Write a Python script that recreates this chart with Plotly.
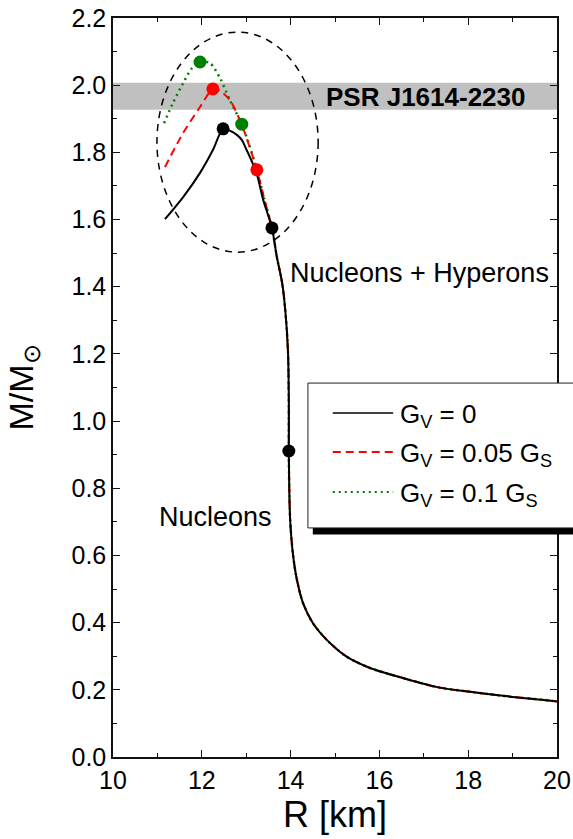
import plotly.graph_objects as go

# ---------------- data ----------------
# shared stable (nucleon) branch, radius [km] and mass [Msun]
r_tail = [13.58, 13.69, 13.81, 13.88, 13.94, 13.96, 13.96, 13.97, 13.99, 14.05, 14.14,
          14.28, 14.50, 14.82, 15.27, 15.79, 16.53, 17.30, 18.04, 18.78, 19.91, 20.0]
m_tail = [1.575, 1.489, 1.411, 1.33, 1.21, 1.063, 0.91, 0.80, 0.706, 0.607, 0.529,
          0.458, 0.399, 0.348, 0.298, 0.265, 0.235, 0.208, 0.194, 0.182, 0.167, 0.165]

# hyperonic branches (G_V = 0, 0.05 G_S, 0.1 G_S)
r_gv0 = [11.17, 11.58, 11.96, 12.25, 12.48, 12.64, 12.79, 12.90, 13.01, 13.12, 13.24, 13.38]
m_gv0 = [1.601, 1.667, 1.739, 1.807, 1.870, 1.864, 1.852, 1.837, 1.807, 1.775, 1.735, 1.660]

r_gv005 = [11.17, 11.58, 11.96, 12.25, 12.41, 12.63, 12.86, 13.00, 13.24, 13.40]
m_gv005 = [1.756, 1.858, 1.935, 1.989, 1.983, 1.956, 1.896, 1.846, 1.748, 1.665]

r_gv01 = [11.15, 11.35, 11.58, 11.78, 11.96, 12.18, 12.41, 12.63, 12.90, 13.05, 13.24, 13.40]
m_gv01 = [1.887, 1.947, 2.006, 2.051, 2.069, 2.066, 2.021, 1.956, 1.884, 1.83, 1.748, 1.665]

# marked points (maximum mass and hyperon onset, etc.)
r_pts_gv0 = [12.48, 13.58, 13.96]
m_pts_gv0 = [1.870, 1.575, 0.911]
r_pts_gv005 = [12.25, 13.24]
m_pts_gv005 = [1.989, 1.748]
r_pts_gv01 = [11.96, 12.90]
m_pts_gv01 = [2.069, 1.884]

series_names = ["G<sub>V</sub> = 0", "G<sub>V</sub> = 0.05 G<sub>S</sub>", "G<sub>V</sub> = 0.1 G<sub>S</sub>"]
psr_band = [1.927, 2.007]
ellipse_box = [10.99, 14.62, 1.503, 2.158]  # x0, x1, y0, y1

x_ticks = [10, 12, 14, 16, 18, 20]
y_ticks = [0.0, 0.2, 0.4, 0.6, 0.8, 1.0, 1.2, 1.4, 1.6, 1.8, 2.0, 2.2]

# ---------------- figure ----------------
FONT = "Liberation Sans, Arial, Helvetica, sans-serif"
colors = ["#000000", "#ff0000", "#008000"]
dashes = ["solid", "8px,5px", "2px,4px"]
widths = [2, 2, 2.5]

fig = go.Figure()

curves = [(r_gv0, m_gv0), (r_gv005, m_gv005), (r_gv01, m_gv01)]
points = [(r_pts_gv0, m_pts_gv0), (r_pts_gv005, m_pts_gv005), (r_pts_gv01, m_pts_gv01)]

# draw order: green, red, black (black on top)
for i in [2, 1, 0]:
    rx, my = curves[i]
    fig.add_trace(go.Scatter(
        x=list(rx) + r_tail, y=list(my) + m_tail, mode="lines",
        line=dict(color=colors[i], width=widths[i], dash=dashes[i],
                  shape="spline", smoothing=0.8),
        name=series_names[i], showlegend=False, hoverinfo="skip"))
for i in [2, 1, 0]:
    px_, py_ = points[i]
    fig.add_trace(go.Scatter(
        x=px_, y=py_, mode="markers",
        marker=dict(color=colors[i], size=13, line=dict(width=0)),
        showlegend=False, hoverinfo="skip"))

shapes = []
# PSR band
shapes.append(dict(type="rect", xref="paper", yref="y", x0=0, x1=1,
                   y0=psr_band[0], y1=psr_band[1], fillcolor="#c0c0c0",
                   line=dict(width=0), layer="below"))
# dashed ellipse
shapes.append(dict(type="circle", xref="x", yref="y",
                   x0=ellipse_box[0], x1=ellipse_box[1], y0=ellipse_box[2], y1=ellipse_box[3],
                   line=dict(color="black", width=1.5, dash="7px,6px")))

# manual legend box with shadow (paper coords)
L, R, T, B = 0.439, 1.05, 0.506, 0.310
shapes.append(dict(type="rect", xref="paper", yref="paper",
                   x0=L + 0.011, x1=R + 0.02, y0=B - 0.009, y1=T - 0.009,
                   fillcolor="black", line=dict(width=0)))
shapes.append(dict(type="rect", xref="paper", yref="paper",
                   x0=L, x1=R, y0=B, y1=T, fillcolor="white",
                   line=dict(color="#222222", width=1)))
rows = [0.4655, 0.4127, 0.3586]
annotations = []
for i in range(3):
    shapes.append(dict(type="line", xref="paper", yref="paper",
                       x0=0.495, x1=0.631, y0=rows[i], y1=rows[i],
                       line=dict(color=colors[i], width=1.5 if i == 0 else 2,
                                 dash=dashes[i])))
    annotations.append(dict(xref="paper", yref="paper", x=0.643, y=rows[i] - 0.004,
                            xanchor="left", yanchor="middle", showarrow=False,
                            text=series_names[i],
                            font=dict(family=FONT, size=26, color="black")))

annotations += [
    dict(xref="x", yref="y", x=17.03, y=1.965, text="<b>PSR J1614-2230</b>",
         showarrow=False, xanchor="center", yanchor="middle",
         font=dict(family=FONT, size=26, color="black")),
    dict(xref="x", yref="y", x=13.95, y=1.44, text="Nucleons + Hyperons",
         showarrow=False, xanchor="left", yanchor="middle",
         font=dict(family=FONT, size=27, color="black")),
    dict(xref="x", yref="y", x=10.98, y=0.715, text="Nucleons",
         showarrow=False, xanchor="left", yanchor="middle",
         font=dict(family=FONT, size=27, color="black")),
]

axis_common = dict(showgrid=False, zeroline=False, showline=True, linecolor="#111111",
                   linewidth=1.5, mirror="ticks", ticks="inside", ticklen=7,
                   tickwidth=1.2, tickcolor="#111111", automargin=False,
                   tickfont=dict(family=FONT, size=25, color="black"))

fig.update_layout(
    width=573, height=839,
    margin=dict(l=113, r=16, t=18, b=82),
    paper_bgcolor="white", plot_bgcolor="white",
    shapes=shapes, annotations=annotations, showlegend=False,
    xaxis=dict(range=[10, 20], tickvals=x_ticks, ticktext=[str(v) for v in x_ticks],
               minor=dict(ticks="inside", ticklen=4, dtick=1, tickcolor="#111111", tickwidth=1),
               title=dict(text="R [km]", font=dict(family=FONT, size=36, color="black"),
                          standoff=6),
               **axis_common),
    yaxis=dict(range=[0, 2.2], tickvals=y_ticks, ticktext=[f"{v:.1f}" for v in y_ticks],
               minor=dict(ticks="inside", ticklen=4, dtick=0.1, tickcolor="#111111", tickwidth=1),
               title=dict(text="M/M<sub>⊙</sub>", font=dict(family=FONT, size=34, color="black"),
                          standoff=28),
               **axis_common),
)

fig.write_html("out.html")
